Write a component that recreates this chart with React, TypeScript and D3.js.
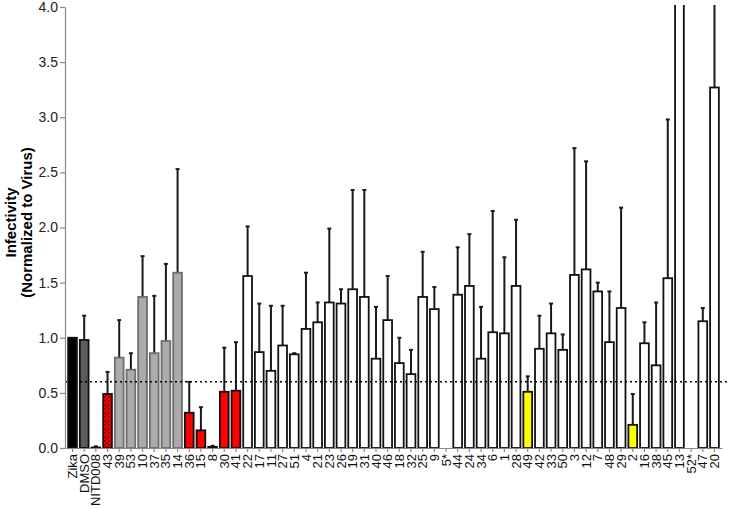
import React, { useEffect, useRef } from 'react';
import * as d3 from 'd3';

// compounds in plotted order
const categories = [
  'Zika', 'DMSO', 'NITD008', '43', '39', '53', '10', '37', '35', '14',
  '36', '15', '8', '30', '41', '22', '17', '11', '27', '51',
  '4', '21', '23', '26', '19', '31', '40', '46', '18', '32',
  '25', '9', '5*', '44', '24', '34', '6', '1', '28', '49',
  '42', '33', '50', '3', '12', '7', '48', '29', '2', '16',
  '38', '45', '13', '52*', '47', '20',
];

// mean infectivity (null = no bar)
const means: (number | null)[] = [
  1.0, 0.98, 0.005, 0.49, 0.82, 0.71, 1.37, 0.86, 0.97, 1.59,
  0.32, 0.16, 0.01, 0.51, 0.52, 1.56, 0.87, 0.70, 0.93, 0.85,
  1.08, 1.14, 1.32, 1.31, 1.44, 1.37, 0.81, 1.16, 0.77, 0.67,
  1.37, 1.26, null, 1.39, 1.47, 0.81, 1.05, 1.04, 1.47, 0.51,
  0.90, 1.04, 0.89, 1.57, 1.62, 1.42, 0.96, 1.27, 0.21, 0.95,
  0.75, 1.54, 4.6, null, 1.15, 3.27,
];

// top of the error bar
const errTops: (number | null)[] = [
  1.0, 1.2, 0.015, 0.69, 1.16, 0.86, 1.74, 1.38, 1.67, 2.53,
  0.60, 0.37, 0.02, 0.91, 0.96, 2.01, 1.31, 1.29, 1.29, 0.86,
  1.59, 1.32, 1.99, 1.44, 2.34, 2.34, 1.28, 1.56, 1.00, 0.89,
  1.78, 1.46, null, 1.82, 1.94, 1.28, 2.15, 1.73, 2.07, 0.65,
  1.20, 1.31, 1.03, 2.72, 2.60, 1.50, 1.42, 2.18, 0.49, 1.14,
  1.32, 2.98, 6.0, null, 1.27, 4.5,
];

// bar groups
const grayBars = ['39', '53', '10', '37', '35', '14'];
const redBars = ['36', '15', '8', '30', '41'];
const yellowBars = ['49', '2'];

const yTicks = [0, 0.5, 1, 1.5, 2, 2.5, 3, 3.5, 4];
const threshold = 0.6;

const fillFor = (c: string) => {
  if (c === 'Zika') return '#000000';
  if (c === 'DMSO') return '#5c5c5c';
  if (c === 'NITD008') return '#333333';
  if (c === '43') return 'url(#redCheck)';
  if (grayBars.includes(c)) return '#ababab';
  if (redBars.includes(c)) return '#ff0000';
  if (yellowBars.includes(c)) return '#ffff00';
  return '#ffffff';
};

const strokeFor = (c: string) => (grayBars.includes(c) ? '#6e6e6e' : '#111');

export default function App() {
  const svgRef = useRef<SVGSVGElement>(null);

  useEffect(() => {
    if (!svgRef.current) return;
    const width = 730;
    const height = 508;
    const left = 65;
    const top = 7;
    const bottom = 448;

    const svg = d3.select(svgRef.current);
    svg.selectAll('*').remove();
    svg.attr('width', width).attr('height', height);

    const font = 'Liberation Sans, Arial, sans-serif';

    const defs = svg.append('defs');
    const pat = defs.append('pattern')
      .attr('id', 'redCheck')
      .attr('width', 4).attr('height', 4)
      .attr('patternUnits', 'userSpaceOnUse');
    pat.append('rect').attr('width', 4).attr('height', 4).attr('fill', '#ff0000');
    pat.append('rect').attr('width', 2).attr('height', 2).attr('fill', '#b00000');
    pat.append('rect').attr('x', 2).attr('y', 2).attr('width', 2).attr('height', 2).attr('fill', '#b00000');

    defs.append('clipPath').attr('id', 'plotClip')
      .append('rect')
      .attr('x', left).attr('y', top - 2)
      .attr('width', width - left).attr('height', bottom - top + 2);

    const x = d3.scaleBand<string>()
      .domain(categories)
      .range([left, 722])
      .paddingInner(0.25)
      .paddingOuter(0.27);

    const y = d3.scaleLinear().domain([0, 4]).range([bottom, top]);

    const plot = svg.append('g').attr('clip-path', 'url(#plotClip)');

    const rows = categories.map((c, i) => ({ c, v: means[i], e: errTops[i] }));

    // error bars (behind the bars)
    const eb = plot.selectAll('g.err')
      .data(rows.filter(d => d.v !== null && d.e !== null && d.e! > d.v!))
      .join('g');
    eb.append('line')
      .attr('x1', d => x(d.c)! + x.bandwidth() / 2)
      .attr('x2', d => x(d.c)! + x.bandwidth() / 2)
      .attr('y1', d => y(d.v!))
      .attr('y2', d => y(d.e!))
      .attr('stroke', '#1a1a1a')
      .attr('stroke-width', 2);
    eb.append('line')
      .attr('x1', d => x(d.c)! + x.bandwidth() / 2 - 2)
      .attr('x2', d => x(d.c)! + x.bandwidth() / 2 + 2)
      .attr('y1', d => y(d.e!))
      .attr('y2', d => y(d.e!))
      .attr('stroke', '#1a1a1a')
      .attr('stroke-width', 2);

    plot.selectAll('rect.bar')
      .data(rows.filter(d => d.v !== null))
      .join('rect')
      .attr('class', 'bar')
      .attr('x', d => x(d.c)!)
      .attr('width', x.bandwidth())
      .attr('y', d => y(d.v!))
      .attr('height', d => Math.max(0, y(0) - y(d.v!)))
      .attr('fill', d => fillFor(d.c))
      .attr('stroke', d => strokeFor(d.c))
      .attr('stroke-width', 1.8);

    // threshold line
    svg.append('line')
      .attr('x1', left).attr('x2', width)
      .attr('y1', y(threshold)).attr('y2', y(threshold))
      .attr('stroke', '#000')
      .attr('stroke-width', 1.5)
      .attr('stroke-dasharray', '2,3');

    // y axis
    const yAxis = svg.append('g')
      .attr('transform', `translate(${left},0)`)
      .call(d3.axisLeft(y).tickValues(yTicks).tickFormat(d3.format('.1f')).tickSize(5).tickSizeOuter(0));
    yAxis.select('.domain').attr('stroke', '#8a8a8a').attr('stroke-width', 1.2);
    yAxis.selectAll('.tick line').attr('stroke', '#8a8a8a').attr('stroke-width', 1.2);
    yAxis.selectAll('.tick text')
      .attr('font-family', font)
      .attr('font-size', 14)
      .attr('fill', '#222')
      .attr('x', -7);

    // x axis
    const xAxis = svg.append('g')
      .attr('transform', `translate(0,${bottom})`)
      .call(d3.axisBottom(x).tickSize(4).tickSizeOuter(0));
    xAxis.select('.domain').attr('stroke', '#8a8a8a').attr('stroke-width', 1.2);
    xAxis.selectAll('.tick line').attr('stroke', '#8a8a8a').attr('stroke-width', 1.2);
    xAxis.selectAll('.tick text')
      .attr('font-family', font)
      .attr('font-size', 13)
      .attr('fill', '#111')
      .attr('transform', 'rotate(-90)')
      .attr('text-anchor', 'end')
      .attr('x', -6)
      .attr('y', 0)
      .attr('dy', '0.35em');

    // y label
    const yl = svg.append('text')
      .attr('transform', `translate(16,${(top + bottom) / 2 - 5}) rotate(-90)`)
      .attr('text-anchor', 'middle')
      .attr('font-family', font)
      .attr('font-weight', 'bold')
      .attr('font-size', 15)
      .attr('fill', '#000');
    yl.append('tspan').attr('x', 0).attr('dy', 0).text('Infectivity');
    yl.append('tspan').attr('x', 0).attr('dy', 16).text('(Normalized to Virus)');
  }, []);

  return (
    <svg
      ref={svgRef}
      style={{ position: 'absolute', left: 0, top: 0, background: '#fff' }}
    />
  );
}
